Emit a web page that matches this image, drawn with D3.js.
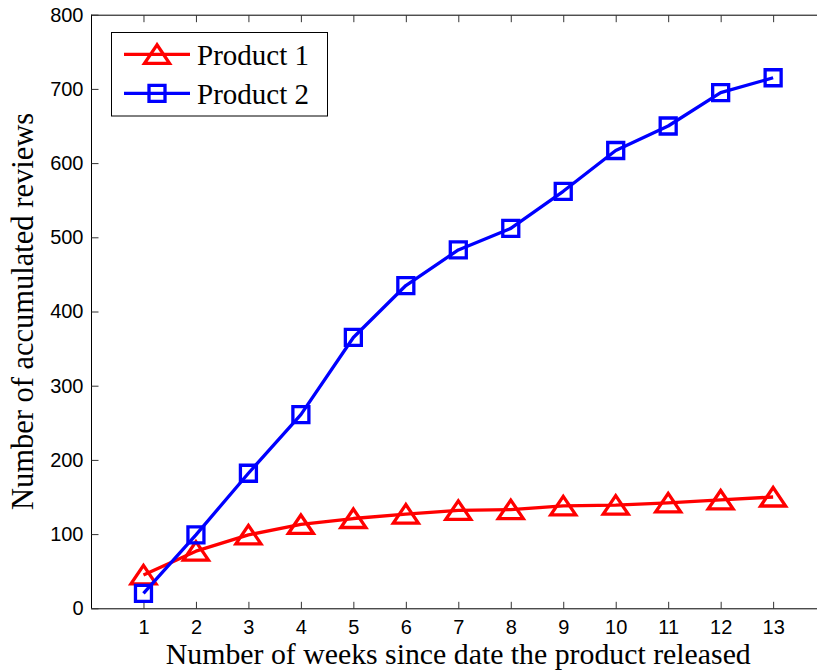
<!DOCTYPE html>
<html><head><meta charset="utf-8">
<script src="https://cdn.jsdelivr.net/npm/d3@7"></script>
<style>body{margin:0;background:#fff}svg{display:block}</style>
</head><body>
<svg id="c" width="817" height="670"></svg>
<script>
const weeks = [1,2,3,4,5,6,7,8,9,10,11,12,13];
const product1 = [45,77,99,113,121,127,132,133,138,139,142,146,150];
const product2 = [20,99,182,261,365,435,483,512,562,617,650,695,715];
const seriesNames = ["Product 1","Product 2"];
const yTicks = [0,100,200,300,400,500,600,700,800];
const xLabel = "Number of weeks since date the product released";
const yLabel = "Number of accumulated reviews";

const svg = d3.select("#c");
const L = 91, R = 825.6, T = 14.7, B = 608.3;
const x = d3.scaleLinear().domain([0,14]).range([L,R]);
const y = d3.scaleLinear().domain([0,800]).range([B,T]);

const tickFont = "'Liberation Sans', Arial, sans-serif";
const serif = "'Liberation Serif', 'Times New Roman', serif";

// axes box lines
const g = svg.append("g");
g.append("line").attr("x1",L).attr("x2",R).attr("y1",B+0.5).attr("y2",B+0.5).attr("stroke","#000");
g.append("line").attr("x1",L).attr("x2",R).attr("y1",T+0.5).attr("y2",T+0.5).attr("stroke","#000");
g.append("line").attr("x1",L+0.5).attr("x2",L+0.5).attr("y1",T).attr("y2",B).attr("stroke","#000");
g.append("line").attr("x1",R-0.5).attr("x2",R-0.5).attr("y1",T).attr("y2",B).attr("stroke","#000");

// bottom axis
const xAxis = d3.axisBottom(x).tickValues(weeks).tickSize(-7).tickPadding(11).tickFormat(d3.format("d"));
const gx = svg.append("g").attr("transform",`translate(0,${B+0.5})`).call(xAxis);
gx.select(".domain").remove();
gx.selectAll("line").attr("stroke","#333");
gx.selectAll("text").attr("font-family",tickFont).attr("font-size",20).attr("fill","#000");

// top axis ticks
const gxt = svg.append("g").attr("transform",`translate(0,${T+0.5})`).call(d3.axisTop(x).tickValues(weeks).tickSize(-7).tickFormat(""));
gxt.select(".domain").remove();
gxt.selectAll("line").attr("stroke","#333");

// left axis
const yAxis = d3.axisLeft(y).tickValues(yTicks).tickSize(-7).tickPadding(8).tickFormat(d3.format("d"));
const gy = svg.append("g").attr("transform",`translate(${L+0.5},0)`).call(yAxis);
gy.select(".domain").remove();
gy.selectAll("line").attr("stroke","#333");
gy.selectAll("text").attr("font-family",tickFont).attr("font-size",20).attr("fill","#000");

// labels
svg.append("text").attr("x",(L+R)/2).attr("y",664).attr("text-anchor","middle")
  .attr("font-family",serif).attr("font-size",29.8).attr("fill","#000").text(xLabel);
svg.append("text").attr("transform",`translate(33,${(T+B)/2}) rotate(-90)`).attr("text-anchor","middle")
  .attr("font-family",serif).attr("font-size",30.5).attr("fill","#000").text(yLabel);

const line = d3.line().x((d,i)=>x(weeks[i])).y(d=>y(d));
const triPath = "M0,-9.5L-12.5,9L12.5,9Z";
const sqPath = "M-8,-8H8V8H-8Z";

function drawSeries(vals, color, path){
  svg.append("path").datum(vals).attr("d",line).attr("fill","none")
    .attr("stroke",color).attr("stroke-width",3.3).attr("stroke-linejoin","round");
  svg.append("g").selectAll("path").data(vals).join("path")
    .attr("transform",(d,i)=>`translate(${x(weeks[i])},${y(d)})`)
    .attr("d",path).attr("fill","none").attr("stroke",color).attr("stroke-width",3.3);
}
drawSeries(product1,"#ff0000",triPath);
drawSeries(product2,"#0000ff",sqPath);

// legend
const lg = svg.append("g");
lg.append("rect").attr("x",111.5).attr("y",32.5).attr("width",216).attr("height",83.5)
  .attr("fill","#fff").attr("stroke","#000").attr("stroke-width",1);
const rows = [{name:seriesNames[0],color:"#ff0000",path:triPath,cy:54.3},
              {name:seriesNames[1],color:"#0000ff",path:sqPath,cy:93.3}];
rows.forEach(r=>{
  lg.append("line").attr("x1",124).attr("x2",190).attr("y1",r.cy).attr("y2",r.cy)
    .attr("stroke",r.color).attr("stroke-width",3.3);
  lg.append("path").attr("transform",`translate(157,${r.cy})`).attr("d",r.path)
    .attr("fill","none").attr("stroke",r.color).attr("stroke-width",3.3);
  lg.append("text").attr("x",197).attr("y",r.cy+11).attr("font-family",serif)
    .attr("font-size",29).attr("fill","#000").text(r.name);
});
</script>
</body></html>
